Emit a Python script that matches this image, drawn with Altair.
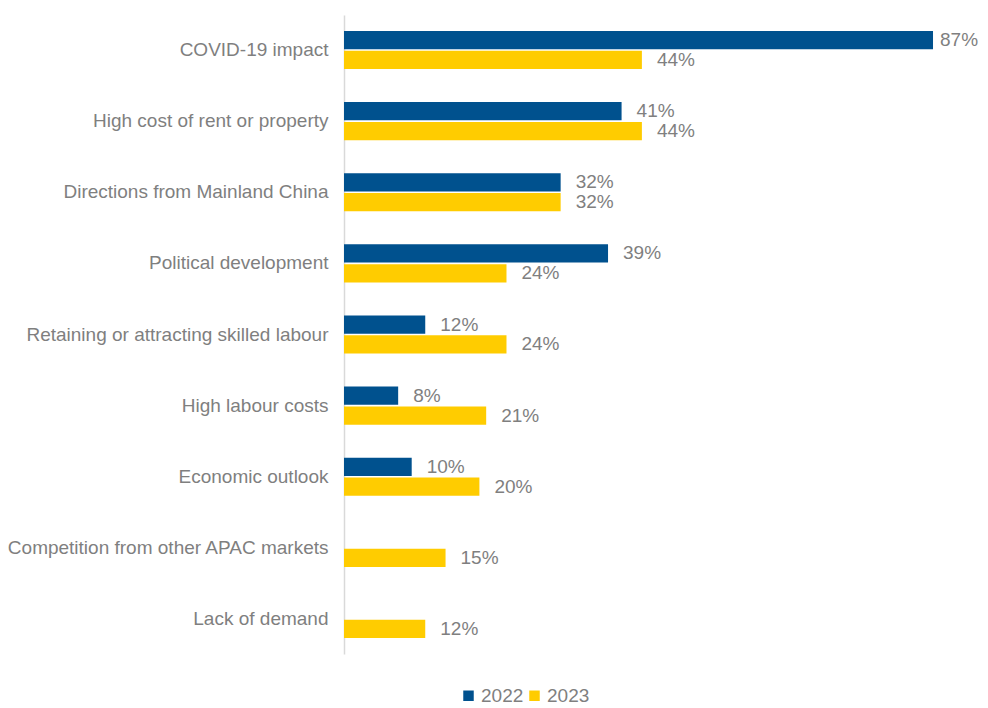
import altair as alt
import pandas as pd

categories = [
    "COVID-19 impact",
    "High cost of rent or property",
    "Directions from Mainland China",
    "Political development",
    "Retaining or attracting skilled labour",
    "High labour costs",
    "Economic outlook",
    "Competition from other APAC markets",
    "Lack of demand",
]
values_2022 = [87, 41, 32, 39, 12, 8, 10, None, None]
values_2023 = [44, 44, 32, 24, 24, 21, 20, 15, 12]
years = ["2022", "2023"]
colors = ["#00518E", "#FFCC00"]

rows = []
for cat, a, b in zip(categories, values_2022, values_2023):
    if a is not None:
        rows.append({"category": cat, "year": "2022", "value": a, "label": f"{a}%"})
    if b is not None:
        rows.append({"category": cat, "year": "2023", "value": b, "label": f"{b}%"})
df = pd.DataFrame(rows)

FONT = "Liberation Sans"
GRAY = "#7F7F7F"
FS = 19

y_enc = alt.Y(
    "category:N",
    sort=categories,
    scale=alt.Scale(paddingInner=0.465, paddingOuter=0.225),
    axis=alt.Axis(
        title=None,
        ticks=False,
        domainColor="#D9D9D9",
        domainWidth=1.5,
        labelPadding=16,
        labelFontSize=FS,
        labelColor=GRAY,
        labelFont=FONT,
        labelLimit=400,
    ),
)
yoff = alt.YOffset("year:N", sort=years, scale=alt.Scale(paddingInner=0.08))
x_enc = alt.X("value:Q", scale=alt.Scale(domain=[0, 93.94]), axis=None)

base = alt.Chart(df).encode(y=y_enc, yOffset=yoff, x=x_enc)

bars = base.mark_bar().encode(
    color=alt.Color(
        "year:N",
        scale=alt.Scale(domain=years, range=colors),
        legend=alt.Legend(
            title=None,
            orient="none",
            legendX=115,
            legendY=671,
            direction="horizontal",
            symbolType="square",
            symbolSize=110,
            symbolStrokeWidth=0,
            labelFontSize=FS,
            labelColor=GRAY,
            labelFont=FONT,
            columnPadding=1,
            labelOffset=3,
        ),
    )
)

texts = base.mark_text(
    align="left", baseline="middle", dx=15, fontSize=FS, color=GRAY, font=FONT
).encode(text="label:N").transform_filter(alt.datum.value < 80)

texts_edge = base.mark_text(
    align="left", baseline="middle", dx=7, fontSize=FS, color=GRAY, font=FONT
).encode(text="label:N").transform_filter(alt.datum.value >= 80)

chart = (
    alt.layer(bars, texts, texts_edge)
    .properties(
        width=636,
        height=639,
        autosize=alt.AutoSizeParams(type="none"),
        padding={"left": 336, "top": 7, "right": 0, "bottom": 54},
    )
    .configure_view(stroke=None)
)

chart.save("out.html", embed_options={"renderer": "svg", "actions": False})
